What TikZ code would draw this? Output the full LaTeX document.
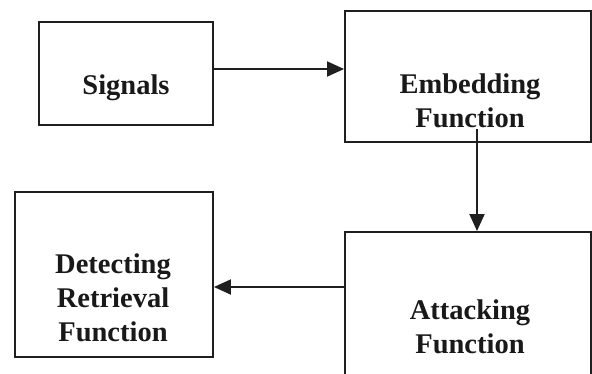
\documentclass[tikz,border=0pt]{standalone}
\usepackage{fontspec}
\setmainfont{Liberation Serif}
\usetikzlibrary{arrows.meta}
\begin{document}
\begin{tikzpicture}[x=1pt,y=-1pt,
  box/.style={draw=black!88,line width=1.9pt,rectangle,inner sep=0pt},
  lbl/.style={font=\fontsize{28.5}{34}\selectfont\bfseries,align=center,inner sep=0pt,text=black!90},
  arr/.style={draw=black!88,line width=1.9pt,-{Triangle[length=17pt,width=15pt]}}]
\useasboundingbox (0,0) rectangle (592,373);
\clip (0,0) rectangle (592,373);
\fill[white] (0,0) rectangle (592,373);
% boxes
\node[box,minimum width=174pt,minimum height=103pt] (sig) at (126,73.5) {};
\node[box,minimum width=246pt,minimum height=131pt] (emb) at (468,76.5) {};
\node[box,minimum width=198pt,minimum height=165pt] (det) at (114,274.5) {};
\node[box,minimum width=246pt,minimum height=160pt] (att) at (468,312) {};
% texts
\node[lbl] (sigt) at (126,88) {Signals};
\node[lbl] (embt) at (470,101) {Embedding\\Function};
\node[lbl] (dett) at (113,298) {Detecting\\Retrieval\\Function};
\node[lbl] (attt) at (470,327) {Attacking\\Function};
% connectors
\coordinate (s1) at (sig.east |- 0,69);
\draw[arr] (s1) -- (s1 -| emb.west);
\coordinate (s2) at (477,129);
\draw[arr] (s2) -- (s2 |- att.north);
\coordinate (s3) at (att.west |- 0,287);
\draw[arr] (s3) -- (s3 -| det.east);
\end{tikzpicture}
\end{document}
